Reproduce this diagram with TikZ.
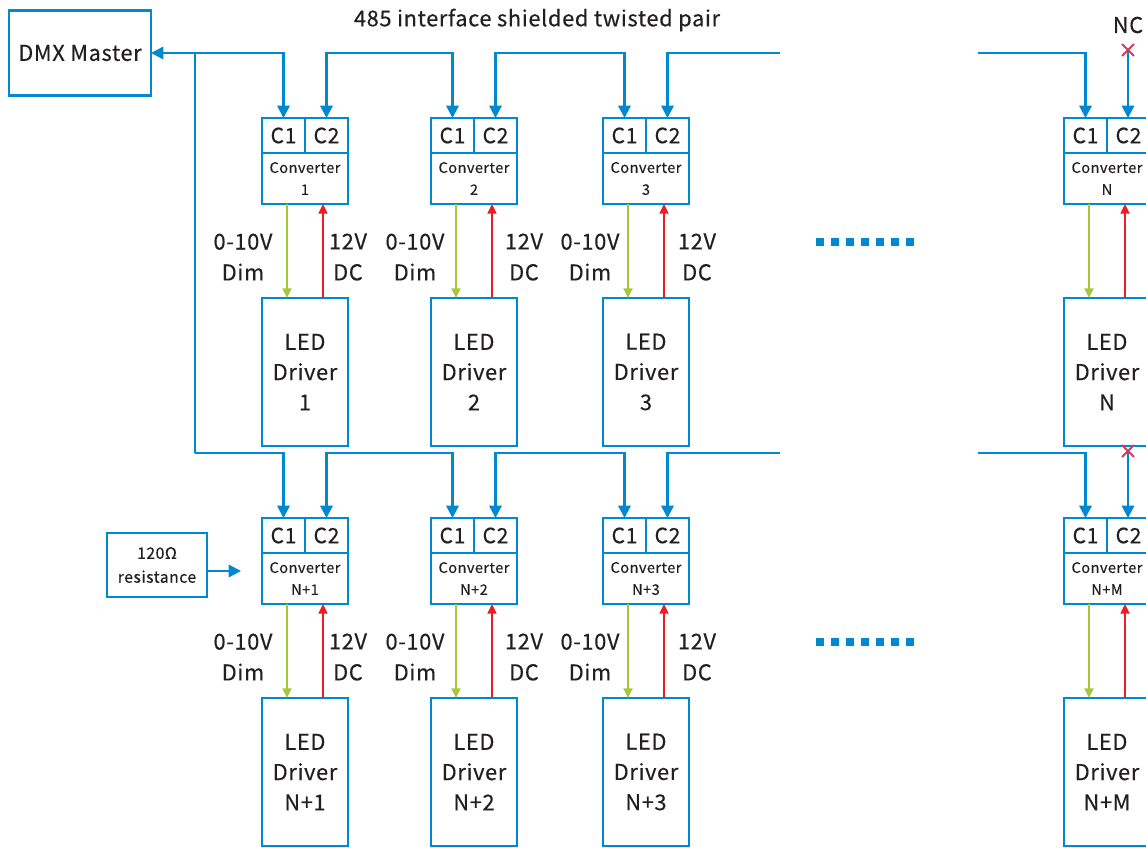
\documentclass[tikz,border=0pt]{standalone}
\usepackage{fontspec}
\setmainfont{Noto Sans CJK SC}[FakeBold=0.35, LetterSpace=3]
\usetikzlibrary{arrows.meta,shapes.misc}
\definecolor{busblue}{RGB}{0,137,208}
\definecolor{dimgreen}{RGB}{163,201,58}
\definecolor{pwrred}{RGB}{237,28,36}
\definecolor{ncred}{RGB}{214,55,90}
\definecolor{txt}{RGB}{35,31,32}

\begin{document}
\begin{tikzpicture}[x=0.02cm, y=-0.02cm,
    >={Triangle[length=7pt,width=7pt]},
    wire/.style={line width=1.3pt, busblue},
    box/.style={draw=busblue, line width=1.2pt, text=txt, inner sep=0pt,
        outer sep=0pt, align=center},
    cell/.style={box, minimum width=0.86cm, minimum height=0.7cm,
        font=\fontsize{12}{14}\selectfont},
    conv/.style={box, minimum width=1.72cm, minimum height=1.02cm,
        font=\fontsize{8.3}{12.5}\selectfont},
    drv/.style={box, minimum width=1.72cm, minimum height=2.96cm,
        font=\fontsize{12.4}{17.2}\selectfont},
    dimw/.style={line width=1.3pt, dimgreen, -{Triangle[length=5.5pt,width=5pt]}},
    pwrw/.style={line width=1.3pt, pwrred, -{Triangle[length=5.5pt,width=5pt]}},
    lbl/.style={text=txt, align=center, font=\fontsize{12.4}{17.6}\selectfont},
    ncx/.style={cross out, draw=ncred, line width=1.1pt, minimum size=0.2cm,
        inner sep=0pt}]

  \useasboundingbox (0,0) rectangle (1146,848);

  % ---- title and the master ----
  \node[lbl] (title) at (537,20) {485 interface shielded twisted pair};
  \node[box, minimum width=2.84cm, minimum height=1.7cm,
        font=\fontsize{12.4}{15}\selectfont] (dmx) at (80,53) {DMX Master};

  % ---- converters and drivers ----
  \foreach \i/\x/\y/\n in {1/262/118/1, 2/431/118/2, 3/603/118/3,
      4/1064/118/N, 5/262/518/N+1, 6/431/518/N+2, 7/603/518/N+3,
      8/1064/518/N+M}{
    \node[conv, anchor=north west] (cv\i) at (\x,\y+35) {Converter\\\n};
    \node[cell, anchor=south west] (ca\i) at (cv\i.north west) {C1};
    \node[cell, anchor=south east] (cb\i) at (cv\i.north east) {C2};
    \node[drv, anchor=north west] (drv\i) at (\x,\y+180)
        {\\[-8pt]LED\\Driver\\\n};
    \draw[dimw] ([xshift=0.5cm]cv\i.south west)
        -- ([xshift=0.5cm]drv\i.north west);
    \draw[pwrw] ([xshift=1.22cm]drv\i.north west)
        -- ([xshift=1.22cm]cv\i.south west);
  }

  % ---- dim and supply labels ----
  \foreach \r in {0,400}{
    \foreach \dx/\cx in {243/348, 415/524, 590/697}{
      \node[lbl] (dl\dx\r) at (\dx,257+\r) {0-10V\\Dim};
      \node[lbl] (pl\cx\r) at (\cx,257+\r) {12V\\DC};
    }
  }

  % ---- the 485 bus, row 1 ----
  \coordinate (tr) at (195,53);
  \coordinate (bus2) at (195,453);
  \draw[wire,<->] (dmx.east) -| (ca1.north);
  \draw[wire,<->] (cb1.north) -- (cb1.north |- tr) -| (ca2.north);
  \draw[wire,<->] (cb2.north) -- (cb2.north |- tr) -| (ca3.north);
  \coordinate (e1) at (780,53);
  \draw[wire,<-] (cb3.north) |- (e1);
  \coordinate (s1) at (978,53);
  \draw[wire,->] (s1) -| (ca4.north);

  % ---- trunk down to row 2 ----
  \draw[wire] (tr) -- (bus2);
  \draw[wire,->] (bus2) -| (ca5.north);
  \draw[wire,<->] (cb5.north) -- (cb5.north |- bus2) -| (ca6.north);
  \draw[wire,<->] (cb6.north) -- (cb6.north |- bus2) -| (ca7.north);
  \coordinate (e2) at (780,453);
  \draw[wire,<-] (cb7.north) |- (e2);
  \coordinate (s2) at (978,453);
  \draw[wire,->] (s2) -| (ca8.north);

  % ---- open ends ----
  \node[lbl] (nc) at (1128,25) {NC};
  \coordinate (x1) at (1128,50);
  \draw[wire,->] (x1) -- (x1 |- cb4.north);
  \node[ncx] (x1m) at (x1) {};
  \coordinate (x2) at (1128,451);
  \draw[wire,->] (x2) -- (x2 |- cb8.north);
  \node[ncx] (x2m) at (x2) {};

  % ---- terminating resistor ----
  \node[box, minimum width=2cm, minimum height=1.28cm,
        font=\fontsize{9}{13.6}\selectfont] (res) at (157,565)
      {120Ω\\resistance};
  \coordinate (rt) at (241,571);
  \draw[wire,->] (res.east |- rt) -- (rt);

  % ---- more units ----
  \foreach \r in {0,400}
    \foreach \k in {0,...,6}
      \fill[busblue] (816+15*\k,238+\r) rectangle ++(8,8);

\end{tikzpicture}
\end{document}
